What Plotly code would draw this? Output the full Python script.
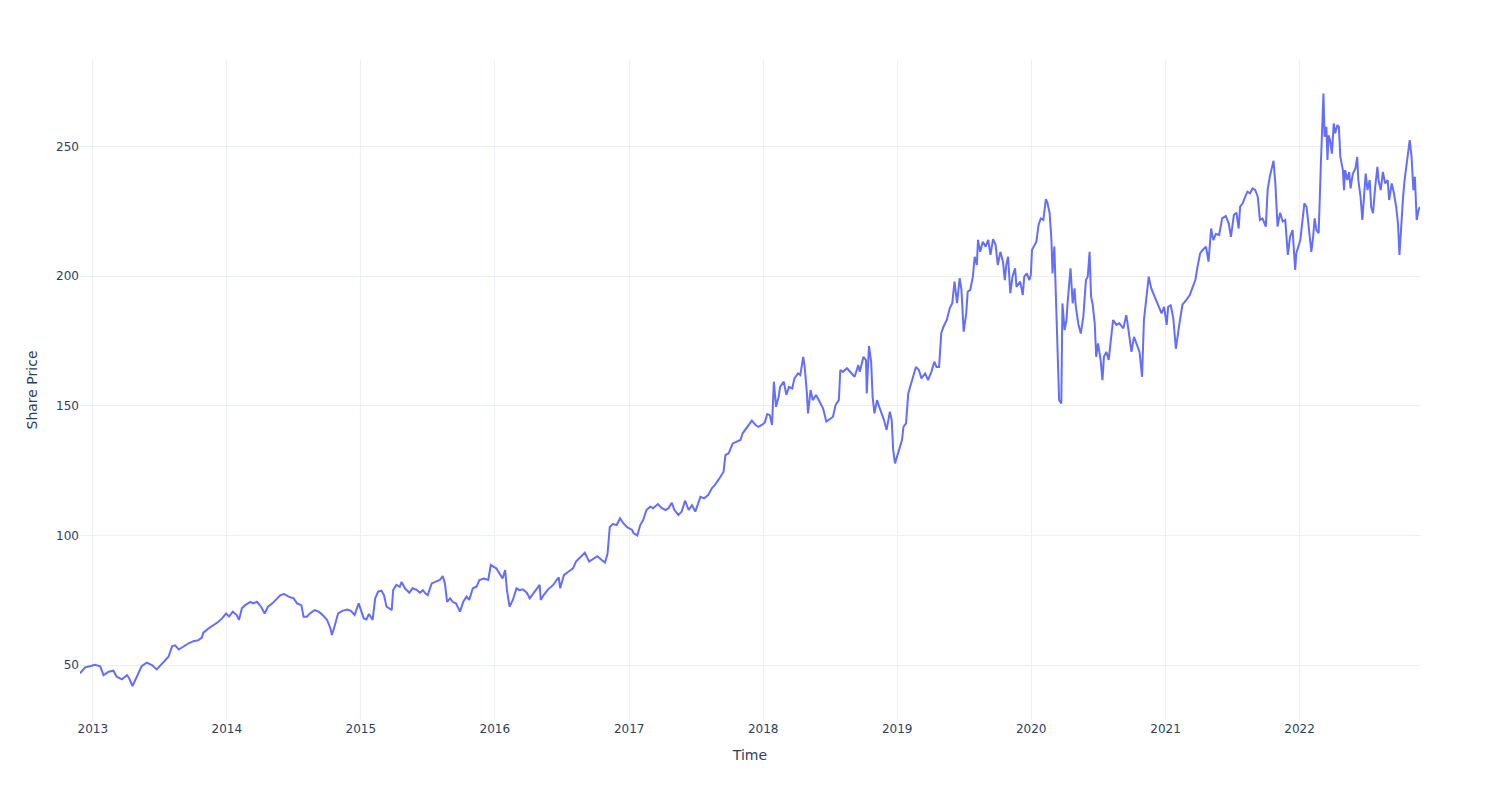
import plotly.graph_objects as go

dates = [
"2012-11-27","2012-12-11","2012-12-26","2013-01-07","2013-01-21","2013-01-30","2013-02-13","2013-02-26","2013-03-07","2013-03-21",
"2013-04-04","2013-04-10","2013-04-19","2013-05-01","2013-05-14","2013-05-28","2013-06-11","2013-06-24","2013-07-05","2013-07-17",
"2013-07-26","2013-08-05","2013-08-13","2013-08-23","2013-09-05","2013-09-19","2013-10-02","2013-10-16","2013-10-25","2013-10-29",
"2013-11-12","2013-11-26","2013-12-09","2013-12-19","2013-12-30","2014-01-07","2014-01-17","2014-01-28","2014-02-03","2014-02-11",
"2014-02-20","2014-03-06","2014-03-14","2014-03-24","2014-04-04","2014-04-14","2014-04-23","2014-05-05","2014-05-15","2014-05-27",
"2014-06-06","2014-06-18","2014-07-02","2014-07-11","2014-07-23","2014-07-29","2014-08-07","2014-08-15","2014-08-28","2014-09-08",
"2014-09-19","2014-10-01","2014-10-10","2014-10-14","2014-10-21","2014-10-31","2014-11-12","2014-11-24","2014-12-05","2014-12-15",
"2014-12-26","2015-01-02","2015-01-09","2015-01-16","2015-01-23","2015-02-02","2015-02-09","2015-02-17","2015-02-26","2015-03-05",
"2015-03-12","2015-03-19","2015-03-26","2015-03-30","2015-04-08","2015-04-17","2015-04-22","2015-05-01","2015-05-13","2015-05-22",
"2015-06-03","2015-06-11","2015-06-19","2015-06-26","2015-07-02","2015-07-13","2015-07-24","2015-08-04","2015-08-12","2015-08-18",
"2015-08-24","2015-09-01","2015-09-08","2015-09-17","2015-09-28","2015-10-07","2015-10-16","2015-10-23","2015-11-02","2015-11-12",
"2015-11-20","2015-12-02","2015-12-14","2015-12-21","2015-12-29","2016-01-05","2016-01-11","2016-01-15","2016-01-22","2016-01-29",
"2016-02-03","2016-02-10","2016-02-19","2016-02-29","2016-03-08","2016-03-17","2016-03-28","2016-04-05","2016-04-14","2016-04-22",
"2016-05-02","2016-05-05","2016-05-13","2016-05-25","2016-06-08","2016-06-17","2016-06-23","2016-06-27","2016-07-07","2016-07-19",
"2016-08-01","2016-08-09","2016-08-19","2016-09-02","2016-09-14","2016-09-26","2016-10-06","2016-10-18","2016-10-27","2016-11-03",
"2016-11-09","2016-11-17","2016-11-28","2016-12-07","2016-12-16","2016-12-27","2017-01-09","2017-01-13","2017-01-23","2017-01-31",
"2017-02-08","2017-02-17","2017-02-27","2017-03-07","2017-03-20","2017-03-31","2017-04-10","2017-04-18","2017-04-27","2017-05-04",
"2017-05-15","2017-05-24","2017-06-02","2017-06-12","2017-06-21","2017-06-30","2017-07-07","2017-07-14","2017-07-24","2017-08-04",
"2017-08-14","2017-08-22","2017-09-01","2017-09-08","2017-09-15","2017-09-20","2017-09-29","2017-10-10","2017-10-20","2017-10-31",
"2017-11-06","2017-11-13","2017-11-22","2017-12-01","2017-12-11","2017-12-19","2017-12-28","2018-01-05","2018-01-12","2018-01-19",
"2018-01-25","2018-01-30","2018-02-05","2018-02-12","2018-02-16","2018-02-26","2018-03-05","2018-03-12","2018-03-21","2018-03-27",
"2018-04-06","2018-04-12","2018-04-20","2018-04-24","2018-04-30","2018-05-03","2018-05-10","2018-05-16","2018-05-25","2018-06-04",
"2018-06-13","2018-06-22","2018-07-02","2018-07-10","2018-07-17","2018-07-26","2018-07-30","2018-08-06","2018-08-17","2018-08-27",
"2018-09-07","2018-09-17","2018-09-21","2018-10-01","2018-10-08","2018-10-10","2018-10-16","2018-10-22","2018-10-26","2018-10-31",
"2018-11-07","2018-11-16","2018-11-26","2018-12-03","2018-12-12","2018-12-17","2018-12-21","2018-12-26","2019-01-02","2019-01-07",
"2019-01-14","2019-01-18","2019-01-25","2019-01-31","2019-02-07","2019-02-14","2019-02-21","2019-03-01","2019-03-08","2019-03-18",
"2019-03-26","2019-04-04","2019-04-12","2019-04-18","2019-04-25","2019-05-01","2019-05-07","2019-05-16","2019-05-24","2019-05-31",
"2019-06-06","2019-06-13","2019-06-20","2019-06-25","2019-07-01","2019-07-08","2019-07-12","2019-07-19","2019-07-26","2019-07-31",
"2019-08-06","2019-08-09","2019-08-15","2019-08-22","2019-08-30","2019-09-06","2019-09-12","2019-09-19","2019-09-26","2019-10-02",
"2019-10-09","2019-10-16","2019-10-21","2019-10-25","2019-10-30","2019-11-05","2019-11-11","2019-11-18","2019-11-22","2019-12-02",
"2019-12-09","2019-12-13","2019-12-20","2019-12-27","2019-12-31","2020-01-03","2020-01-10","2020-01-15","2020-01-21","2020-01-27",
"2020-02-03","2020-02-10","2020-02-14","2020-02-20","2020-02-25","2020-02-28","2020-03-04","2020-03-09","2020-03-13","2020-03-17",
"2020-03-23","2020-03-26","2020-04-01","2020-04-06","2020-04-09","2020-04-17","2020-04-23","2020-04-28","2020-05-01","2020-05-08",
"2020-05-15","2020-05-22","2020-05-29","2020-06-03","2020-06-08","2020-06-12","2020-06-16","2020-06-22","2020-06-26","2020-07-01",
"2020-07-08","2020-07-13","2020-07-17","2020-07-24","2020-07-30","2020-08-06","2020-08-11","2020-08-20","2020-08-28","2020-09-08",
"2020-09-16","2020-09-22","2020-09-30","2020-10-07","2020-10-13","2020-10-22","2020-10-29","2020-11-03","2020-11-09","2020-11-16",
"2020-11-23","2020-12-02","2020-12-11","2020-12-21","2020-12-28","2021-01-04","2021-01-08","2021-01-15","2021-01-22","2021-01-29",
"2021-02-08","2021-02-16","2021-02-26","2021-03-08","2021-03-16","2021-03-23","2021-03-29","2021-04-05","2021-04-12","2021-04-21",
"2021-04-28","2021-05-05","2021-05-11","2021-05-18","2021-05-27","2021-06-04","2021-06-14","2021-06-22","2021-06-28","2021-07-06",
"2021-07-13","2021-07-19","2021-07-23","2021-07-30","2021-08-06","2021-08-12","2021-08-19","2021-08-26","2021-09-02","2021-09-09",
"2021-09-15","2021-09-22","2021-10-01","2021-10-06","2021-10-12","2021-10-19","2021-10-22","2021-10-27","2021-10-29","2021-11-02",
"2021-11-09","2021-11-16","2021-11-23","2021-11-30","2021-12-06","2021-12-13","2021-12-20","2021-12-23","2022-01-03","2022-01-10",
"2022-01-14","2022-01-20","2022-01-24","2022-01-28","2022-02-02","2022-02-07","2022-02-11","2022-02-16","2022-02-22","2022-02-28",
"2022-03-03","2022-03-07","2022-03-10","2022-03-15","2022-03-18","2022-03-21","2022-03-25","2022-03-30","2022-04-04","2022-04-08",
"2022-04-14","2022-04-18","2022-04-22","2022-04-29","2022-05-02","2022-05-05","2022-05-11","2022-05-16","2022-05-20","2022-05-26",
"2022-06-02","2022-06-07","2022-06-10","2022-06-16","2022-06-21","2022-06-27","2022-06-30","2022-07-05","2022-07-11","2022-07-15",
"2022-07-20","2022-07-26","2022-08-01","2022-08-04","2022-08-10","2022-08-16","2022-08-22","2022-08-29","2022-09-02","2022-09-09",
"2022-09-15","2022-09-21","2022-09-26","2022-09-30","2022-10-05","2022-10-10","2022-10-14","2022-10-19","2022-10-24","2022-10-28",
"2022-11-02","2022-11-07","2022-11-11","2022-11-16","2022-11-21","2022-11-25",
]

prices = [
46.8,49.1,49.6,50.1,49.5,46.1,47.4,47.8,45.5,44.5,
46.1,44.9,41.9,45.5,49.6,50.9,50.0,48.3,50.0,52.2,
53.2,57.3,57.6,56.0,57.3,58.4,59.2,59.6,60.6,62.5,
64.1,65.4,66.7,68.0,69.9,68.7,70.6,69.3,67.4,71.9,
73.1,74.4,73.8,74.4,72.5,69.9,72.5,73.8,75.3,77.0,
77.4,76.4,75.7,73.8,73.1,68.6,68.6,69.9,71.2,70.6,
69.3,67.4,64.2,61.6,64.8,69.9,70.9,71.4,70.9,69.3,
73.8,71.2,68.0,67.6,69.7,67.4,75.7,78.3,78.7,77.0,
72.5,71.9,71.2,78.9,80.9,80.2,82.1,79.6,77.9,79.6,
78.9,77.9,78.9,77.6,77.0,81.5,82.1,82.8,84.3,81.5,
74.4,75.7,74.4,73.8,70.6,74.4,76.4,75.1,79.6,80.2,
82.8,83.4,82.8,88.6,87.9,87.3,86.0,85.1,83.4,86.6,
78.9,72.5,75.1,79.6,78.9,79.2,77.9,75.7,77.6,79.2,
80.9,75.1,77.0,79.2,80.9,82.8,83.8,79.6,84.7,86.0,
87.3,89.9,91.2,93.3,89.9,91.2,92.0,90.5,89.5,93.0,
103.2,104.4,104.0,106.6,104.7,103.1,102.1,100.8,100.0,104.0,
105.9,109.8,111.1,110.5,112.1,110.5,109.8,110.5,112.6,109.8,
107.9,109.2,113.4,109.8,111.7,109.2,111.7,114.9,114.3,115.6,
118.2,119.4,121.4,123.3,124.6,131.0,131.7,135.5,136.2,136.8,
139.4,140.7,142.6,144.3,142.6,141.9,142.6,143.5,146.8,146.4,
142.6,159.3,149.6,153.5,157.3,159.3,154.2,157.3,156.7,160.6,
162.5,161.9,168.9,165.0,154.8,147.1,156.1,152.2,154.2,151.6,
149.0,143.9,145.1,145.8,150.3,152.2,163.8,163.1,164.5,163.1,
161.2,165.7,163.1,168.9,167.6,154.8,173.1,167.0,153.5,147.1,
152.2,148.4,144.5,140.7,147.7,144.5,133.0,127.8,131.0,134.2,
136.8,141.9,143.2,154.8,158.0,161.2,165.0,163.8,160.6,162.5,
159.9,163.1,167.0,165.0,165.0,178.0,180.5,183.1,187.6,189.6,
197.9,189.6,199.2,194.7,178.6,185.7,194.0,194.7,199.8,207.5,
204.3,214.0,209.4,213.3,211.4,214.0,208.2,214.3,212.0,204.3,
209.4,205.6,198.5,204.3,207.5,193.4,199.8,203.0,195.9,197.9,
192.7,199.8,201.1,198.5,200.5,210.1,212.0,213.3,219.8,222.3,
221.7,229.7,228.4,224.5,214.2,201.1,211.4,189.5,168.9,152.2,
150.9,189.5,179.2,183.1,189.5,203.0,189.5,195.3,188.8,181.8,
177.9,184.4,198.5,199.8,209.4,192.1,189.5,181.8,168.9,174.1,
167.7,159.9,168.9,170.8,167.7,175.4,183.1,181.2,181.8,179.9,
185.0,179.2,170.8,176.6,174.1,170.8,161.2,183.1,190.8,199.8,
195.3,192.1,189.5,185.7,188.2,181.2,188.2,188.8,183.8,172.0,
182.0,189.0,190.8,192.7,195.9,198.5,203.6,208.8,210.1,211.4,
205.6,218.4,213.9,216.3,215.9,222.3,223.2,220.3,215.2,223.6,
224.5,218.4,226.8,228.1,230.7,232.6,232.0,233.9,233.3,230.7,
221.7,222.3,219.1,233.3,238.5,243.5,244.5,235.8,228.1,219.1,
224.5,221.1,221.7,208.2,215.2,217.8,202.4,208.8,213.9,221.7,
228.1,226.8,221.7,216.6,209.4,215.3,222.3,217.8,216.6,243.5,
255.1,270.5,253.8,257.6,244.8,254.4,252.5,247.3,258.9,255.1,
258.3,257.6,246.0,240.9,233.2,240.9,237.1,240.2,233.9,239.6,
241.5,246.0,237.1,230.7,221.7,233.2,239.6,233.2,237.1,226.8,
224.3,234.5,242.2,237.1,233.2,240.2,235.8,237.1,229.4,235.8,
232.0,226.8,220.4,208.2,221.7,230.7,237.1,243.5,248.0,252.5,
246.0,233.2,238.3,221.7,225.5,226.8,
]

x_title = "Time"
y_title = "Share Price"

fig = go.Figure(
    go.Scatter(x=dates, y=prices, mode="lines", line=dict(color="#636efa", width=2))
)
fig.update_layout(
    template="plotly_white",
    width=1500,
    height=800,
    font=dict(family="DejaVu Sans"),
    margin=dict(l=80, r=80, t=60, b=80),
    showlegend=False,
    xaxis=dict(title=dict(text=x_title)),
    yaxis=dict(title=dict(text=y_title), range=[28.8, 283.4]),
)
fig.write_html("out.html")
